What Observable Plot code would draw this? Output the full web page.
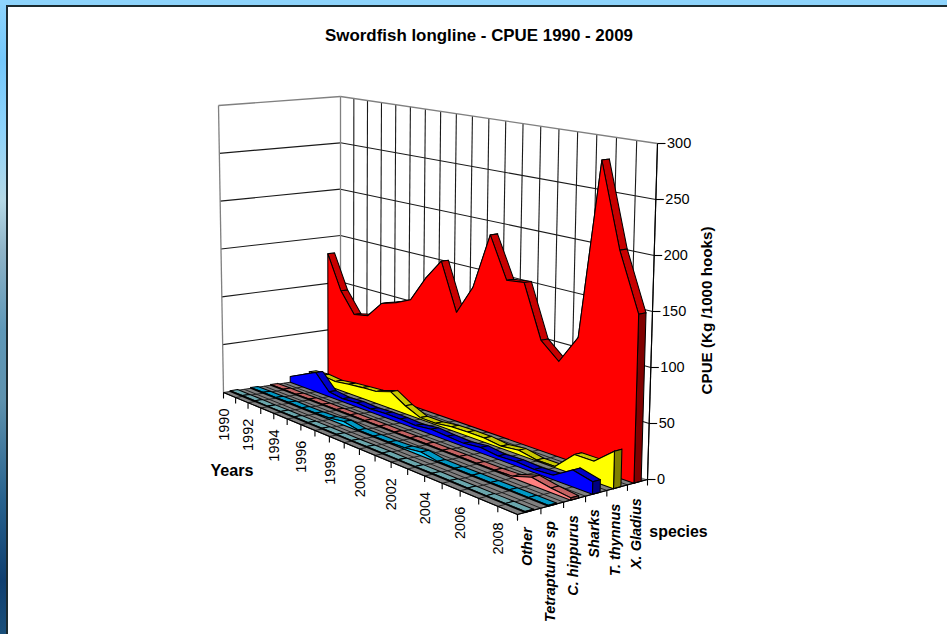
<!DOCTYPE html>
<html>
<head>
<meta charset="utf-8">
<script src="https://cdn.jsdelivr.net/npm/d3@7"></script>
<script src="https://cdn.jsdelivr.net/npm/@observablehq/plot@0.6"></script>
<style>
  html, body { margin: 0; padding: 0; overflow: hidden; }
  body { width: 947px; height: 634px; position: relative;
    background: linear-gradient(180deg, #8ed4fc 0, #74c8fb 60px, #8ed4fc 130px, #b4d8e6 200px, #8fb4c8 250px, #5e98b8 330px, #5e92ae 400px, #27628e 500px, #0f3f70 580px, #1a4f7a 634px); }
  #panel { position: absolute; left: 6px; top: 5px; width: 941px; height: 629px; background: #fff;
    border-left: 2px solid #1c2b30; border-top: 2px solid #1c2b30; box-sizing: border-box; }
  #top { position: absolute; left: 0; top: 0; width: 947px; height: 5px; background: #8ed4fc; }
  #chart { position: absolute; left: 0; top: 0; }
</style>
</head>
<body>
<div id="top"></div>
<div id="panel"></div>
<div id="chart"></div>
<script>
// CPUE by species and year, in kg per 1000 hooks.
const years = d3.range(1990, 2010);
const species = ["Other", "Tetrapturus sp", "C. hippurus", "Sharks", "T. thynnus", "X. Gladius"];
const other = [0.8, 0.9, 0.8, 0.7, 0.8, 0.9, 0.8, 0.9, 0.8, 0.7, 0.8, 0.9, 0.8, 0.8, 0.9, 0.8, 0.8, 0.7, 0.8, 0.8];
const tetrapturus = [0.8, 0.9, 0.8, 1.2, 0.8, 0.9, 1.5, 3.5, 0.9, 0.8, 0.9, 1.5, 3.5, 0.9, 0.8, 0.9, 0.8, 0.9, 0.8, 0.8];
const hippurus = [0.8, 0.9, 0.8, 0.9, 0.8, 0.8, 0.9, 0.8, 0.9, 0.8, 0.8, 0.9, 0.8, 0.9, 0.8, 0.8, 1.5, 7, 4, 2];
const sharks = [6, 13, 20, 5, 3, 4, 3, 4, 4, 3, 5, 4, 3, 5, 3, 4, 3, 4, 15, 11];
const thynnus = [8, 9, 7.5, 9.5, 11, 12, 17, 8, 1.5, 1.5, 3.5, 4, 4, 2, 4, 1, 1, 18, 18, 33];
const gladius = [132, 96, 75, 78, 95, 100, 107, 133, 154, 107, 136, 191, 151, 153, 103, 88, 115, 281, 203, 150];
const seriesValues = [other, tetrapturus, hippurus, sharks, thynnus, gladius];

const cpueTicks = [0, 50, 100, 150, 200, 250, 300];
const yearLabels = years.filter((y) => y % 2 === 0);
const topShade = ["#6aa6ac", "#0098c4", "#c46262", "#0000c8", "#c8c800", "#c80000"];
const faceShade = ["#80d0d8", "#10c8f8", "#ff8080", "#0000ff", "#ffff00", "#ff0000"];
const capShade = ["#406468", "#005c78", "#804040", "#000080", "#808000", "#800000"];

// Perspective box: a homography for the floor and one for the ceiling of the chart volume.
function squareToQuad([[x0, y0], [x1, y1], [x2, y2], [x3, y3]]) {
  const dx1 = x1 - x2, dx2 = x3 - x2, sx = x0 - x1 + x2 - x3;
  const dy1 = y1 - y2, dy2 = y3 - y2, sy = y0 - y1 + y2 - y3;
  const den = dx1 * dy2 - dx2 * dy1;
  const g = (sx * dy2 - dx2 * sy) / den, h = (dx1 * sy - sx * dy1) / den;
  const a = x1 - x0 + g * x1, b = x3 - x0 + h * x3;
  const d = y1 - y0 + g * y1, e = y3 - y0 + h * y3;
  return (u, v) => {
    const w = g * u + h * v + 1;
    return [(a * u + b * v + x0) / w, (d * u + e * v + y0) / w];
  };
}
const floorMap = squareToQuad([[223, 392], [517, 514], [647, 479], [340, 374]]);
const ceilMap = squareToQuad([[218, 105], [521, 160], [657, 143], [340, 96]]);
const project = (u, v, value) => {
  const f = floorMap(u, v), c = ceilMap(u, v), t = value / 300;
  return [f[0] + (c[0] - f[0]) * t, f[1] + (c[1] - f[1]) * t];
};
// Year position along the depth axis, eased slightly to soften the foreshortening.
const yearEase = 1.06;
const uOf = (k) => yearEase * k / (yearEase * k + (years.length - 1 - k));

// Flat list of outlined polygons, kept in painting order (back to front).
const polys = [];
const addPoly = (pts, fill) => {
  const id = polys.length ? polys[polys.length - 1].id + 1 : 0;
  [...pts, pts[0]].forEach(([x, y]) => polys.push({id, x, y, fill}));
};

// Floor
addPoly([project(0, 0, 0), project(1, 0, 0), project(1, 1, 0), project(0, 1, 0)], "#808080");

// Floor grid, walls and their grid lines
const floorGrid = [], wallGrey = [], wallBlack = [];
const segment = (list, a, b) => { const id = list.length; list.push({id, x: a[0], y: a[1]}, {id, x: b[0], y: b[1]}); };
years.forEach((_, k) => segment(floorGrid, project(uOf(k), 0, 0), project(uOf(k), 1, 0)));
species.forEach((_, i) => segment(floorGrid, project(0, i / 6, 0), project(1, i / 6, 0)));
years.forEach((_, k) => { if (k > 0) segment(wallBlack, project(uOf(k), 1, 0), project(uOf(k), 1, 300)); });
cpueTicks.slice(1, -1).forEach((t) => {
  segment(wallBlack, project(0, 0, t), project(0, 1, t));
  segment(wallBlack, project(0, 1, t), project(1, 1, t));
});
segment(wallGrey, project(0, 0, 0), project(0, 0, 300));
segment(wallGrey, project(0, 0, 300), project(0, 1, 300));
segment(wallGrey, project(0, 1, 300), project(1, 1, 300));
segment(wallGrey, project(0, 1, 0), project(0, 1, 300));

// Ribbons, from the rear species to the front one
const halfDepth = 0.18;
for (let i = species.length - 1; i >= 0; --i) {
  const vals = seriesValues[i];
  const vf = (i + 0.5 - halfDepth) / 6, vb = (i + 0.5 + halfDepth) / 6;
  for (let k = 0; k < vals.length - 1; ++k) {
    addPoly([project(uOf(k), vb, vals[k]), project(uOf(k + 1), vb, vals[k + 1]),
             project(uOf(k + 1), vf, vals[k + 1]), project(uOf(k), vf, vals[k])], topShade[i]);
  }
  const last = vals.length - 1;
  addPoly([project(1, vf, 0), project(1, vb, 0), project(1, vb, vals[last]), project(1, vf, vals[last])], capShade[i]);
  addPoly([project(0, vf, 0), ...vals.map((val, k) => project(uOf(k), vf, val)), project(1, vf, 0)], faceShade[i]);
}

// Axis lines and tick marks
const axisLines = [];
segment(axisLines, project(0, 0, 0), project(1, 0, 0));
segment(axisLines, project(1, 0, 0), project(1, 1, 0));
segment(axisLines, project(1, 1, 0), project(1, 1, 300));
years.forEach((_, k) => { const p = project(uOf(k), 0, 0); segment(axisLines, p, [p[0], p[1] + 6]); });
d3.range(7).forEach((i) => { const p = project(1, i / 6, 0); segment(axisLines, p, [p[0], p[1] + 6]); });
cpueTicks.forEach((t) => { const p = project(1, 1, t); segment(axisLines, p, [p[0] + 8, p[1]]); });

const cpueRows = cpueTicks.map((t) => { const p = project(1, 1, t); return {x: p[0] + 9.5, y: p[1], t}; });
const yearRows = yearLabels.map((y) => { const p = project(uOf(years.indexOf(y)), 0, 0); return {x: p[0] + 0.5, y: p[1] + 16, y0: y}; });
const speciesRows = species.map((s, i) => { const p = project(1, (i + 0.5) / 6, 0); return {x: p[0] - 1.5, y: p[1] + 16, s}; });

const font = "Liberation Sans, Arial, sans-serif";
const size = 14.5;
const wire = (data, stroke, strokeWidth) => Plot.line(data, {x: "x", y: "y", z: "id", stroke, strokeWidth, strokeLinecap: "butt"});

const chart = Plot.plot({
  width: 947,
  height: 634,
  margin: 0,
  x: {type: "identity", axis: null},
  y: {type: "identity", axis: null},
  color: {type: "identity"},
  style: {background: "transparent", overflow: "visible"},
  marks: [
    wire(wallBlack, "#1a1a1a", 1.1),
    wire(wallGrey, "#808080", 1.3),
    Plot.line(polys.filter((d) => d.id === 0), {x: "x", y: "y", z: "id", fill: "#808080", stroke: "none"}),
    wire(floorGrid, "#222", 1),
    Plot.line(polys.filter((d) => d.id > 0), {x: "x", y: "y", z: "id", fill: "fill", stroke: "#000", strokeWidth: 1.05, strokeLinejoin: "miter", strokeMiterlimit: 2}),
    wire(axisLines, "#000", 1.1),
    Plot.text(cpueRows, {x: "x", y: "y", text: (d) => String(d.t), textAnchor: "start", fontFamily: font, fontSize: size, fill: "#000"}),
    Plot.text(yearRows, {x: "x", y: "y", text: (d) => String(d.y0), rotate: -90, textAnchor: "end", fontFamily: font, fontSize: size, fill: "#000"}),
    Plot.text(speciesRows, {x: "x", y: "y", text: "s", rotate: -90, textAnchor: "end", fontFamily: font, fontSize: size, fontWeight: "bold", fontStyle: "italic", fill: "#000"}),
    Plot.text([{x: 478.5, y: 35, t: "Swordfish longline - CPUE 1990 - 2009"}], {x: "x", y: "y", text: "t", fontFamily: font, fontSize: 16.9, fontWeight: "bold", fill: "#000"}),
    Plot.text([{x: 707, y: 310, t: "CPUE (Kg /1000 hooks)"}], {x: "x", y: "y", text: "t", rotate: -90, fontFamily: font, fontSize: 15.2, fontWeight: "bold", fill: "#000"}),
    Plot.text([{x: 231.5, y: 470, t: "Years"}], {x: "x", y: "y", text: "t", fontFamily: font, fontSize: 16.2, fontWeight: "bold", fill: "#000"}),
    Plot.text([{x: 678, y: 531, t: "species"}], {x: "x", y: "y", text: "t", fontFamily: font, fontSize: 15.9, fontWeight: "bold", fill: "#000"})
  ]
});
document.getElementById("chart").append(chart);
</script>
</body>
</html>
